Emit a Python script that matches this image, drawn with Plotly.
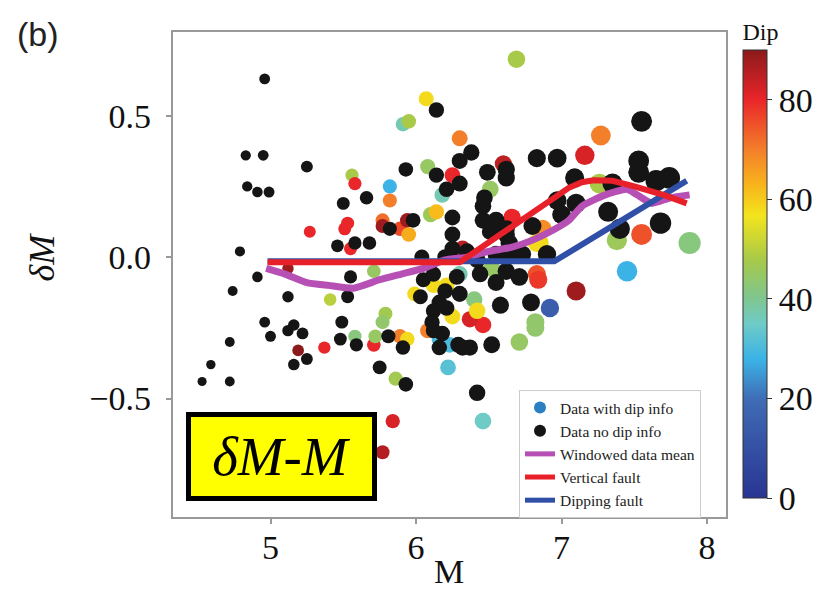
import plotly.graph_objects as go

# ---- data with dip info ----
M_dip = [5.37, 5.19, 5.41, 5.58, 5.71, 5.72, 5.79, 5.77, 5.89, 5.94, 5.86, 5.84, 5.77,
         6.07, 5.91, 5.95, 6.30, 5.56, 5.58, 5.82, 5.82, 6.08, 6.25, 6.18, 6.10, 6.14,
         5.27, 5.51, 5.53, 5.77, 5.77, 5.89, 5.94, 5.95, 5.55, 6.32, 5.71, 5.12,
         6.60, 6.51, 6.66, 6.83, 6.69, 7.27, 7.16, 7.26, 7.55, 7.38, 7.88, 7.45,
         6.87, 6.85, 6.52, 6.83, 7.10, 6.92, 6.82, 6.82, 6.71, 6.84, 6.46, 6.37,
         6.40, 6.42, 6.23, 6.22, 6.46, 6.21, 6.08, 6.25, 5.99, 6.16, 6.30, 6.12]
dM_dip = [-0.32, -0.33, -0.15, -0.28, -0.31, -0.28, -0.20, -0.23, -0.28, -0.29, -0.43, -0.58, -0.69,
          0.56, 0.47, 0.48, 0.42, 0.29, 0.26, 0.25, 0.20, 0.32, 0.29, 0.22, 0.15, 0.16,
          0.09, 0.10, 0.12, 0.13, 0.11, 0.10, 0.13, 0.08, 0.03, 0.03, -0.05, -0.04,
          0.33, 0.24, 0.14, 0.05, 0.70, 0.43, 0.36, 0.26, 0.08, 0.06, 0.05, -0.05,
          0.10, 0.05, -0.04, -0.06, -0.12, -0.18, -0.23, -0.25, -0.30, -0.08, -0.24, -0.22,
          -0.15, -0.19, -0.31, -0.39, -0.58, -0.10, -0.26, -0.21, -0.13, -0.29, -0.06, -0.10]
dip = [80, 90, 50, 42, 80, 45, 47, 44, 70, 58, 47, 82, 86,
       58, 37, 48, 70, 48, 80, 28, 70, 45, 80, 37, 46, 62,
       80, 80, 80, 72, 88, 76, 88, 64, 80, 85, 45, 88,
       85, 45, 80, 58, 48, 70, 82, 48, 75, 46, 42, 28,
       68, 58, 45, 75, 88, 15, 44, 44, 45, 78, 80, 82,
       42, 58, 30, 32, 35, 58, 70, 58, 58, 30, 37, 58]

# ---- data without dip info ----
M_nodip = [4.96, 4.83, 4.95, 4.84, 4.91, 4.99, 5.25, 4.79, 4.91, 4.74, 5.12, 4.96, 5.00,
           5.12, 5.16, 5.22, 4.72, 4.59, 4.53, 4.72, 5.16, 5.25, 5.55, 5.53, 5.49, 5.48,
           5.59, 5.81, 5.91, 5.75, 5.93, 6.03, 6.05,
           6.14, 6.30, 6.38, 5.93, 6.14, 6.21, 6.30, 5.50, 5.66, 6.25, 5.82, 5.98, 5.46,
           5.58, 5.68, 6.25, 6.25, 6.04, 6.49, 6.62, 6.62, 6.83, 6.97, 6.47, 6.46, 6.46,
           6.55, 6.51, 6.62, 6.80, 6.20, 6.42, 6.55, 6.64, 6.73, 6.90,
           7.55, 7.53, 7.53, 7.65, 7.74, 7.09, 7.35, 7.10, 6.97, 7.00, 7.32, 7.40, 7.68,
           6.62, 6.64, 6.35, 6.62,
           6.30, 6.16, 6.21, 6.12, 6.11, 6.18, 6.12, 6.55, 6.71, 6.79, 6.58, 6.52, 6.37,
           6.29, 6.16, 6.32, 6.42, 6.20, 6.12, 6.28, 6.44]
dM_nodip = [0.63, 0.36, 0.36, 0.25, 0.23, 0.23, 0.32, 0.02, -0.07, -0.12, -0.14, -0.23, -0.28,
            -0.26, -0.24, -0.27, -0.30, -0.38, -0.44, -0.44, -0.38, -0.36, -0.07, -0.14, -0.23, -0.29,
            -0.31, -0.28, -0.32, -0.39, -0.45, -0.14, -0.08,
            0.52, 0.34, 0.37, 0.31, 0.29, 0.24, 0.26, 0.19, 0.21, 0.14, 0.10, 0.13, 0.04,
            0.05, 0.05, 0.08, 0.03, 0.00, 0.30, 0.31, 0.28, 0.35, 0.35, 0.21, 0.18, 0.13,
            0.13, 0.09, 0.10, 0.11, 0.00, -0.01, 0.01, 0.01, 0.01, 0.01,
            0.48, 0.34, 0.30, 0.27, 0.28, 0.28, 0.26, 0.19, 0.20, 0.15, 0.16, 0.10, 0.12,
            0.08, 0.05, 0.02, -0.05,
            -0.13, -0.16, -0.18, -0.19, -0.23, -0.27, -0.26, -0.09, -0.07, -0.16, -0.17, -0.31, -0.32,
            -0.31, -0.32, -0.32, -0.48, -0.12, -0.06, -0.07, -0.06]

# ---- curves ----
M_win = [4.97, 5.10, 5.25, 5.40, 5.57, 5.75, 5.90, 6.05, 6.20, 6.35, 6.50, 6.66, 6.80,
         6.94, 7.05, 7.14, 7.30, 7.45, 7.55, 7.62, 7.75, 7.88]
dM_win = [-0.04, -0.06, -0.09, -0.10, -0.11, -0.08, -0.06, -0.04, -0.01, 0.00, 0.02, 0.035,
          0.06, 0.095, 0.13, 0.18, 0.22, 0.24, 0.21, 0.19, 0.21, 0.22]
M_vert = [4.98, 6.30, 7.05, 7.14, 7.22, 7.35, 7.50, 7.70, 7.86]
dM_vert = [-0.018, -0.018, 0.245, 0.265, 0.272, 0.27, 0.25, 0.22, 0.19]
M_dipf = [4.98, 6.95, 7.86]
dM_dipf = [-0.015, -0.015, 0.27]

x_ticks = [5, 6, 7, 8]
y_ticks = [-0.5, 0.0, 0.5]
y_ticktext = ["\u22120.5\u00a0", "0.0\u00a0", "0.5\u00a0"]
cb_ticks = [0, 20, 40, 60, 80]

SERIF = "Liberation Serif, Times New Roman, serif"
TICK_SIZE = 34

dip_scale = [
    [0.00, "#283593"], [0.11, "#3450a3"], [0.22, "#3f6cb4"], [0.31, "#3bb3e6"],
    [0.39, "#6fcbc6"], [0.45, "#80c68c"], [0.53, "#a6c94a"], [0.63, "#f3e41d"],
    [0.70, "#f8b41c"], [0.78, "#f37d2a"], [0.89, "#e92529"], [1.00, "#8c1a1b"],
]


def msize(ms):
    return [9 + 3.9 * (m - 4.5) for m in ms]


# page body has an 8px default margin -> figure drawn 8px in from the corner
W, H = 819, 586
L, R, T, B = 165, 101, 23, 77
PW, PH = W - L - R, H - T - B


def px(xp):
    return (xp - 8 - L) / PW


def py(yp):
    return (H - B - (yp - 8)) / PH


fig = go.Figure()

fig.add_trace(go.Scatter(
    x=M_dip, y=dM_dip, mode="markers", showlegend=False, hoverinfo="skip",
    marker=dict(size=msize(M_dip), color=dip, colorscale=dip_scale, cmin=0, cmax=90,
                line=dict(width=0), opacity=1,
                showscale=True,
                colorbar=dict(
                    x=px(743), xanchor="left", xpad=0,
                    y=py(258.5), yanchor="middle", ypad=0,
                    len=479 / PH, lenmode="fraction", thickness=24,
                    outlinecolor="#333", outlinewidth=1,
                    tickvals=cb_ticks, ticks="outside", ticklen=5, tickcolor="#333",
                    tickfont=dict(family=SERIF, size=TICK_SIZE, color="#111"),
                    title=dict(text="Dip", side="top",
                               font=dict(family=SERIF, size=24, color="#111")),
                ))))

fig.add_trace(go.Scatter(
    x=M_nodip, y=dM_nodip, mode="markers", showlegend=False, hoverinfo="skip",
    marker=dict(size=msize(M_nodip), color="#151515", line=dict(width=0), opacity=1)))

fig.add_trace(go.Scatter(x=M_win, y=dM_win, mode="lines", name="Windowed data mean",
                         line=dict(color="#b650b5", width=7, shape="spline", smoothing=0.5),
                         legendrank=3))
fig.add_trace(go.Scatter(x=M_dipf, y=dM_dipf, mode="lines", name="Dipping fault",
                         line=dict(color="#3050a8", width=6), legendrank=5))
fig.add_trace(go.Scatter(x=M_vert, y=dM_vert, mode="lines", name="Vertical fault",
                         line=dict(color="#e8202a", width=6), legendrank=4))

# legend-only markers
fig.add_trace(go.Scatter(x=[None], y=[None], mode="markers", name="Data with dip info",
                         marker=dict(size=13, color="#2a7fc3"), legendrank=1))
fig.add_trace(go.Scatter(x=[None], y=[None], mode="markers", name="Data no dip info",
                         marker=dict(size=13, color="#151515"), legendrank=2))

axis_common = dict(showline=True, linecolor="#999", linewidth=1.5, mirror=True,
                   ticks="outside", ticklen=5, tickcolor="#999", tickwidth=1.5,
                   showgrid=False, zeroline=False,
                   tickfont=dict(family=SERIF, size=TICK_SIZE, color="#111"))

fig.update_layout(
    width=W, height=H, autosize=False,
    margin=dict(l=L, r=R, t=T, b=B),
    paper_bgcolor="white", plot_bgcolor="white",
    xaxis=dict(range=[4.33, 8.13], tickvals=x_ticks, ticklabelstandoff=-6, **axis_common),
    yaxis=dict(range=[-0.919, 0.796], tickvals=y_ticks, ticktext=y_ticktext, **axis_common),
    legend=dict(x=px(519), y=py(390), xanchor="left", yanchor="top",
                bgcolor="white", bordercolor="#cccccc", borderwidth=1,
                font=dict(family=SERIF, size=15.5, color="#222"),
                tracegroupgap=0, itemsizing="constant"),
    annotations=[
        dict(text="(b)", xref="paper", yref="paper",
             x=px(38), y=py(33), showarrow=False,
             xanchor="center", yanchor="middle",
             font=dict(family="Liberation Sans, Arial, sans-serif", size=34, color="#222")),
        dict(text="<i>δM</i>", xref="paper", yref="paper",
             x=px(42), y=py(257), showarrow=False, textangle=-90,
             xanchor="center", yanchor="middle",
             font=dict(family=SERIF, size=36, color="#111")),
        dict(text="M", xref="paper", yref="paper",
             x=px(449), y=py(572), showarrow=False,
             xanchor="center", yanchor="middle",
             font=dict(family=SERIF, size=34, color="#111")),
        dict(text="<i>δM</i>-<i>M</i>", xref="paper", yref="paper",
             x=px(281.5), y=py(456.5), showarrow=False,
             xanchor="center", yanchor="middle",
             width=181, height=79, borderpad=0,
             bgcolor="#ffff00", bordercolor="#000000", borderwidth=5,
             font=dict(family=SERIF, size=55, color="#000")),
    ],
)

fig.write_html("out.html")
